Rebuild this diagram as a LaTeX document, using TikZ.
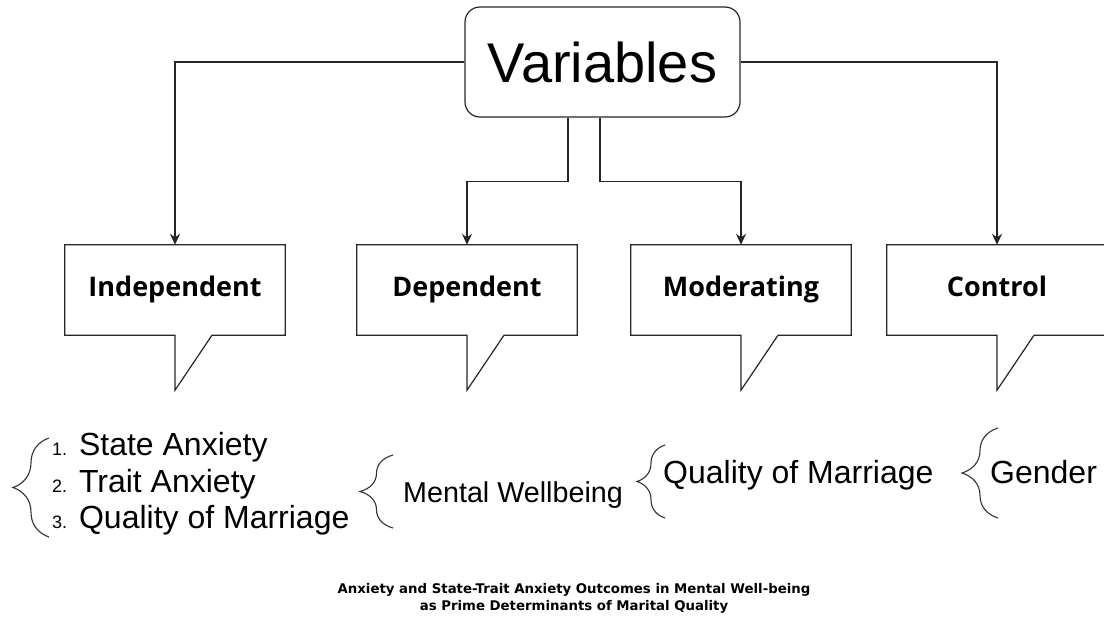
\documentclass[tikz,border=0pt]{standalone}
\usepackage{fontspec}
\setmainfont{Liberation Sans}
\newfontfamily\speechfont{Open Sans}
\newfontfamily\capfont{DejaVu Sans}
\usetikzlibrary{
    arrows.meta,
    positioning,
    decorations.pathreplacing,
    calc
}

\begin{document}
\begin{tikzpicture}[
    x=1pt, y=-1pt,
    varbox/.style={
        rectangle,
        rounded corners=15pt,
        minimum width=275pt,
        minimum height=110pt,
        draw=black!85,
        line width=1.2pt,
        font=\fontsize{56}{60}\selectfont
    },
    speech/.style={
        rectangle,
        minimum width=220pt,
        minimum height=90pt,
        text height=19pt,
        text depth=6pt,
        font=\speechfont\bfseries\fontsize{27}{32}\selectfont
    },
    outline/.style={draw=black!85, line width=1.2pt},
    arrow/.style={-{Stealth[length=11pt,width=10pt]}, draw=black!85, line width=1.2pt},
    item/.style={anchor=base west, inner sep=0pt, font=\fontsize{32}{36}\selectfont},
    curl/.style={draw=black!80, line width=1.1pt, decorate, decoration={brace, amplitude=#1}}
]
\useasboundingbox (0,0) rectangle (1104,622);

% Title box
\node[varbox] (var) at (602.5, 62) {Variables};

% Speech boxes
\node[speech] (indep) at (175, 290) {Independent};
\node[speech] (dep) at (467, 290) {Dependent};
\node[speech] (mod) at (741, 290) {Moderating};
\node[speech] (ctrl) at (997, 290) {Control};

\draw[outline] (indep.north west) -- (indep.north east) -- (indep.south east) -- ([xshift=37pt]indep.south) -- ([yshift=-55pt]indep.south) -- (indep.south) -- (indep.south west) -- cycle;
\draw[outline] (dep.north west) -- (dep.north east) -- (dep.south east) -- ([xshift=37pt]dep.south) -- ([yshift=-55pt]dep.south) -- (dep.south) -- (dep.south west) -- cycle;
\draw[outline] (mod.north west) -- (mod.north east) -- (mod.south east) -- ([xshift=37pt]mod.south) -- ([yshift=-55pt]mod.south) -- (mod.south) -- (mod.south west) -- cycle;
\draw[outline] (ctrl.north west) -- (ctrl.north east) -- (ctrl.south east) -- ([xshift=37pt]ctrl.south) -- ([yshift=-55pt]ctrl.south) -- (ctrl.south) -- (ctrl.south west) -- cycle;

% Arrows
\draw[arrow] (var.west) -| (indep.north);
\draw[arrow] (var.east) -| (ctrl.north);
\draw[arrow] ([xshift=-34.5pt]var.south) -- ++(0,64) -| (dep.north);
\draw[arrow] ([xshift=-2.5pt]var.south) -- ++(0,64) -| (mod.north);

% Independent list
\node[item] (item1) at (52, 455) {{\fontsize{18}{20}\selectfont 1.} State Anxiety};
\node[item] (item2) at (52, 492) {{\fontsize{18}{20}\selectfont 2.} Trait Anxiety};
\node[item] (item3) at (52, 528) {{\fontsize{18}{20}\selectfont 3.} Quality of Marriage};
\draw[curl=36pt] (49, 537) -- (49, 438);

% Dependent
\draw[curl=33pt] (393, 528) -- (393, 455);
\node[item, font=\fontsize{28.7}{32}\selectfont] (wellbeing) at (403, 502) {Mental Wellbeing};

% Moderating
\draw[curl=28pt] (665, 518) -- (665, 445);
\node[item] (quality) at (663, 483) {Quality of Marriage};

% Control
\draw[curl=36pt] (998, 518) -- (998, 428);
\node[item] (gender) at (990, 483) {Gender};

% Caption
\node[align=center, font=\capfont\bfseries\fontsize{13.3}{17}\selectfont] (caption) at (574, 598) {Anxiety and State-Trait Anxiety Outcomes in Mental Well-being\\as Prime Determinants of Marital Quality};

\end{tikzpicture}
\end{document}
